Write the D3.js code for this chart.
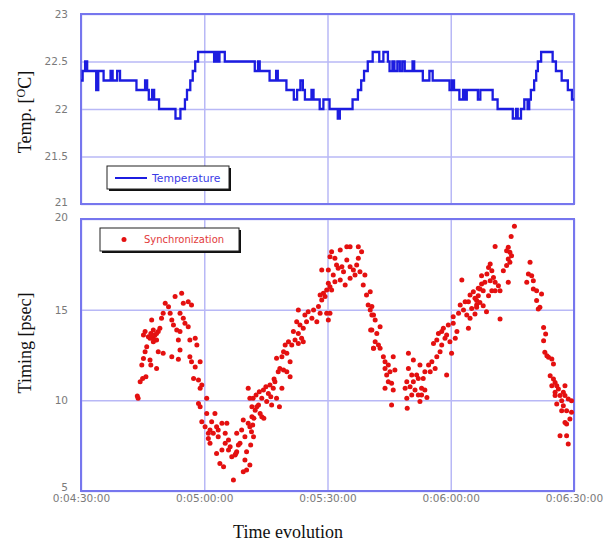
<!DOCTYPE html>
<html>
<head>
<meta charset="utf-8">
<script src="https://cdn.jsdelivr.net/npm/d3@7"></script>
<style>
  body { margin: 0; background: #fff; }
  .tick text { font-family: "DejaVu Sans", sans-serif; font-size: 10.5px; fill: #7a7a7a; }
  .axis-title { font-family: "Liberation Serif", "Times New Roman", serif; font-size: 18px; fill: #111; }
  .legend-text { font-family: "DejaVu Sans", sans-serif; font-size: 10px; }
</style>
</head>
<body>
<div id="chart"></div>
<script>
// seconds after 0:04:30
var timeTicks = [0, 30, 60, 90, 120];
var timeLabels = ["0:04:30:00", "0:05:00:00", "0:05:30:00", "0:06:00:00", "0:06:30:00"];
var tempTicks = [21, 21.5, 22, 22.5, 23];
var timingTicks = [5, 10, 15, 20];

// temperature [s, degC], step changes
var temperature = [
  [0, 22.3], [0.4, 22.4], [1.0, 22.5], [1.5, 22.4], [3.7, 22.2], [4.2, 22.4], [5.5, 22.3],
  [7.2, 22.4], [7.7, 22.3], [8.8, 22.4], [9.5, 22.3], [13.5, 22.2], [15.6, 22.3], [16.1, 22.2],
  [16.5, 22.1], [17.3, 22.2], [17.8, 22.1], [19.0, 22.0], [23.0, 21.9], [24.2, 22.0], [25.3, 22.1],
  [25.8, 22.2], [26.6, 22.3], [27.2, 22.4], [27.8, 22.5], [28.5, 22.6], [32.4, 22.5], [32.8, 22.6],
  [33.3, 22.5], [33.7, 22.6], [35.0, 22.5], [42.3, 22.4], [43.1, 22.5], [43.5, 22.4], [45.9, 22.3],
  [47.5, 22.4], [47.9, 22.3], [50.0, 22.2], [51.8, 22.1], [52.6, 22.2], [53.4, 22.3], [54.0, 22.2],
  [54.5, 22.1], [56.1, 22.2], [56.6, 22.1], [58.1, 22.0], [59.0, 22.1], [59.6, 22.1], [60.5, 22.0],
  [62.5, 21.9], [63.0, 22.0], [66.1, 22.1], [67.4, 22.2], [68.2, 22.3], [68.9, 22.4], [69.8, 22.5],
  [71.0, 22.6], [72.6, 22.5], [73.6, 22.6], [74.7, 22.5], [75.1, 22.4], [75.8, 22.5], [76.3, 22.4],
  [77.0, 22.5], [77.6, 22.4], [78.2, 22.5], [78.8, 22.4], [80.7, 22.5], [81.1, 22.4], [83.2, 22.3],
  [84.8, 22.4], [85.6, 22.3], [89.7, 22.2], [90.3, 22.3], [90.8, 22.2], [92.1, 22.1], [93.0, 22.2],
  [93.5, 22.1], [93.9, 22.2], [96.6, 22.1], [97.2, 22.2], [100.2, 22.1], [101.4, 22.0], [105.1, 21.9],
  [105.9, 22.0], [106.3, 21.9], [107.1, 22.0], [107.9, 22.1], [108.7, 22.0], [109.1, 22.1], [109.5, 22.2],
  [110.3, 22.3], [110.8, 22.4], [111.2, 22.5], [112.0, 22.6], [114.8, 22.5], [115.6, 22.4], [117.0, 22.3],
  [118.5, 22.2], [119.5, 22.1], [120, 22.1]
];

// synchronization timing [s, psec]
var synchronization = [
  [13.7,10.24],[13.9,10.11],[14.4,11.03],[15.0,11.21],[15.8,11.30],[14.8,11.95],[15.2,12.31],[15.6,12.68],
  [16.0,12.96],[16.8,12.22],[17.0,11.95],[18.4,11.76],[15.2,13.60],[15.6,13.79],[16.4,13.51],[17.0,13.69],
  [17.6,13.42],[18.0,13.60],[18.4,13.33],[17.6,13.88],[18.8,13.79],[19.2,13.97],[17.2,14.43],[19.6,14.52],
  [20.0,14.80],[20.5,15.35],[21.3,15.16],[21.7,14.80],[22.1,14.43],[22.5,14.15],[22.9,15.72],[24.5,15.90],
  [24.9,15.35],[26.1,15.44],[26.9,15.26],[24.1,14.80],[24.9,14.52],[23.3,13.88],[24.1,13.79],[25.3,14.25],
  [26.1,14.06],[26.5,13.33],[27.8,13.42],[28.2,13.05],[23.7,13.33],[24.1,12.77],[18.8,12.68],[20.0,12.59],
  [22.1,12.41],[23.7,12.26],[26.5,12.41],[26.9,12.13],[27.8,11.84],[29.0,12.13],[27.4,11.21],[28.6,11.12],
  [29.4,10.84],[29.0,10.66],[30.6,10.11],[28.6,9.83],[29.0,9.65],[29.4,8.82],[30.6,9.28],[30.2,8.55],
  [31.0,8.18],[31.4,7.63],[31.8,8.82],[32.6,9.28],[33.0,8.55],[33.4,7.99],[33.0,7.07],[33.8,6.52],
  [34.7,6.34],[34.3,7.26],[35.1,8.18],[35.5,8.73],[35.9,7.81],[36.3,7.44],[36.7,6.89],[37.5,6.98],
  [37.9,7.17],[37.1,5.60],[38.7,7.63],[39.1,8.36],[39.9,7.99],[40.3,7.17],[39.9,6.71],[40.3,6.16],
  [39.5,6.06],[40.7,10.66],[41.1,10.11],[41.6,9.65],[41.6,9.10],[41.1,8.55],[42.0,7.99],[40.7,8.73],
  [37.9,8.18],[39.5,8.91],[34.3,8.73],[32.2,8.18],[31.0,7.90],[16.8,13.42],[17.2,13.60],[18.0,13.33],
  [18.4,13.69],[17.6,13.23],[35.9,7.26],[38.3,7.53],[37.7,7.07],[35.1,7.63],[33.4,8.36],[31.4,8.36],
  [41.1,6.43],[41.3,7.53],[41.5,8.27],[41.8,8.64],[42.1,9.01],[42.4,9.46],[42.8,9.65],[43.2,9.74],
  [43.6,9.28],[44.0,9.10],[44.5,9.01],[41.9,10.11],[42.6,10.29],[43.4,10.48],[44.4,10.57],[45.0,10.75],
  [45.6,10.38],[46.2,10.20],[46.8,10.66],[47.2,11.03],[47.6,10.11],[48.3,9.65],[48.9,10.66],[44.0,10.11],
  [45.2,9.93],[46.4,9.74],[46.0,10.84],[47.0,11.18],[48.0,11.58],[48.4,11.76],[49.3,11.67],[50.1,11.58],
  [50.9,11.30],[47.6,12.32],[48.9,12.41],[49.3,12.68],[50.1,12.59],[50.9,12.13],[49.7,13.05],[50.5,13.23],
  [51.3,13.05],[52.1,13.33],[52.9,13.14],[53.7,13.42],[54.1,13.23],[51.7,13.79],[52.9,13.69],[53.3,14.15],
  [54.1,13.97],[52.5,14.34],[52.9,14.98],[54.5,14.71],[55.3,14.89],[56.2,14.52],[57.4,14.34],[56.6,14.98],
  [57.8,15.17],[58.2,14.80],[54.9,14.34],[58.6,15.53],[58.2,15.81],[59.0,15.90],[59.8,16.08],[59.4,15.72],
  [60.2,16.45],[60.6,16.27],[61.0,16.08],[59.8,14.80],[60.6,14.80],[60.2,14.43],[58.6,17.19],[60.2,17.19],
  [60.6,17.92],[61.0,18.20],[61.8,17.83],[63.1,18.29],[64.7,18.47],[65.5,18.47],[67.5,18.47],[68.3,18.20],
  [62.2,17.46],[62.6,17.28],[63.5,17.37],[63.9,17.09],[64.7,17.74],[65.5,17.37],[66.3,17.19],[67.1,17.46],
  [67.5,17.83],[65.5,16.73],[66.7,16.91],[67.9,17.09],[69.1,16.91],[68.7,16.36],[69.5,15.81],[69.9,15.26],
  [70.4,14.98],[70.8,14.71],[70.5,13.88],[71.2,12.87],[61.8,16.54],[63.1,16.63],[64.3,16.36],[61.4,16.91],
  [70.4,15.99],[70.8,15.17],[71.2,14.71],[71.6,14.43],[70.8,13.88],[72.0,13.69],[72.8,14.06],[71.6,13.23],
  [72.4,13.05],[71.2,12.87],[72.8,12.87],[73.6,12.41],[74.0,12.13],[74.8,11.95],[76.0,12.41],[74.0,11.76],
  [74.4,11.40],[75.2,11.58],[76.4,11.67],[74.8,11.03],[75.6,10.94],[74.0,10.66],[76.0,10.57],[75.6,9.74],
  [79.7,12.59],[80.9,12.22],[79.7,11.76],[79.3,11.03],[78.9,10.66],[80.1,10.75],[80.9,11.03],[81.7,11.40],
  [81.3,10.57],[82.1,10.29],[79.3,10.11],[80.5,10.29],[82.5,9.93],[84.2,10.15],[79.4,9.56],[82.9,10.66],
  [83.3,11.21],[83.7,11.58],[84.6,11.95],[85.4,12.13],[85.0,11.58],[86.2,11.76],[86.6,12.41],[87.4,12.68],
  [87.8,13.05],[85.8,13.14],[86.6,13.33],[87.0,13.69],[87.8,13.79],[88.6,13.42],[89.0,13.60],[89.8,13.23],
  [90.2,12.59],[89.0,11.40],[88.2,13.97],[89.4,14.15],[90.6,14.25],[91.5,13.79],[91.1,13.42],[90.6,14.61],
  [91.9,14.80],[92.3,15.26],[93.1,14.98],[93.9,14.71],[94.3,13.97],[94.7,14.52],[95.1,15.07],[93.5,15.44],
  [94.3,15.44],[94.7,15.81],[95.9,15.63],[96.3,15.26],[95.5,15.99],[96.7,16.18],[92.7,16.64],[82.5,11.95],
  [82.1,11.21],[80.5,11.40],[82.9,10.29],[83.7,10.57],
  [105.5,19.60],[104.7,19.04],[104.0,18.44],[103.6,18.25],[104.4,18.16],[104.8,17.98],[104.0,17.79],[104.4,17.61],
  [103.6,17.43],[102.8,17.15],[100.8,18.49],[99.6,17.52],[99.2,17.33],[100.0,17.15],[98.8,16.97],[100.4,16.78],
  [99.6,16.60],[100.8,16.51],[101.6,16.32],[98.3,16.51],[97.5,16.41],[97.1,16.14],[97.9,16.05],[99.2,15.77],
  [100.0,16.05],[100.8,16.05],[102.0,16.05],[96.7,15.77],[96.3,15.50],[97.1,15.40],[96.3,15.13],[97.9,15.22],
  [95.9,14.76],[98.7,14.89],[104.0,16.51],[102.0,14.48],[97.5,16.87],[109.3,17.61],[108.9,16.97],[109.7,16.87],
  [108.5,16.51],[110.1,16.14],[110.9,16.05],[112.1,15.86],[110.1,16.60],[110.9,15.50],[111.3,15.04],[111.7,15.13],
  [112.6,14.02],[113.1,13.66],[112.6,13.29],[112.9,12.65],[113.8,12.37],[113.4,12.46],[114.6,12.28],[115.0,12.00],
  [114.2,11.36],[115.0,11.17],[115.4,10.99],[115.8,10.81],[116.2,10.62],[114.6,10.81],[117.8,10.81],[115.4,10.44],
  [116.6,10.26],[117.8,10.26],[118.6,10.07],[119.4,9.98],[117.0,9.98],[115.8,9.80],[117.4,9.70],[118.2,9.43],
  [117.0,9.43],[119.4,9.34],[119.0,8.97],[118.2,8.69],[117.8,8.78],[116.6,8.05],[118.2,8.05],[118.6,7.59],
  [115.4,10.26],[117.4,10.44]
];

var W = 613, H = 543;
var left = 81, right = 574;
var top1 = 14, bot1 = 204;
var top2 = 219, bot2 = 491;
var gridColor = "#b8b8f6", frameColor = "#7676ee";

var svg = d3.select("#chart").append("svg")
    .attr("width", W)
    .attr("height", H);

var x = d3.scaleLinear().domain([0, 120]).range([left, right]);
var yT = d3.scaleLinear().domain([21, 23]).range([bot1, top1]);
var yS = d3.scaleLinear().domain([5, 20]).range([bot2, top2]);

// labels at the panel joins sit a little above their tick
var labelLift = { 21: -2, 20: -2, 5: -4 };

function panel(y, top, bot, yTicks, showX) {
  var g = svg.append("g");
  g.append("g")
      .attr("class", "axis")
      .attr("transform", "translate(" + left + ",0)")
      .call(d3.axisLeft(y).tickValues(yTicks).tickSize(-(right - left)).tickPadding(13).tickFormat(d3.format("")))
      .call(function (a) {
        a.select(".domain").remove();
        a.selectAll(".tick line").attr("stroke", gridColor).attr("stroke-width", 1.5);
        a.selectAll(".tick text").attr("y", function (d) { return labelLift[d] || 0; });
      });
  g.append("g")
      .attr("class", "axis")
      .attr("transform", "translate(0," + bot + ")")
      .call(d3.axisBottom(x).tickValues(timeTicks).tickSize(-(bot - top)).tickPadding(6)
        .tickFormat(function (d, i) { return showX ? timeLabels[i] : ""; }))
      .call(function (a) {
        a.select(".domain").remove();
        a.selectAll(".tick line").attr("stroke", gridColor).attr("stroke-width", 1.5);
        a.selectAll(".tick text").attr("y", 4);
      });
  g.append("rect")
      .attr("x", left).attr("y", top)
      .attr("width", right - left).attr("height", bot - top)
      .attr("fill", "none")
      .attr("stroke", frameColor)
      .attr("stroke-width", 2);
  return g;
}

panel(yT, top1, bot1, tempTicks, false);
panel(yS, top2, bot2, timingTicks, true);

// temperature line
var line = d3.line()
    .x(function (d) { return x(d[0]); })
    .y(function (d) { return yT(d[1]); })
    .curve(d3.curveStepAfter);

svg.append("path")
    .datum(temperature)
    .attr("d", line)
    .attr("fill", "none")
    .attr("stroke", "#1c1ce0")
    .attr("stroke-width", 2.3);

// sync dots
svg.append("g").selectAll("circle")
    .data(synchronization).enter()
    .append("circle")
    .attr("cx", function (d) { return x(d[0]); })
    .attr("cy", function (d) { return yS(d[1]); })
    .attr("r", 2.5)
    .attr("fill", "#e41010");

// legends
function legendBox(bx, by, bw, bh) {
  svg.append("rect")
      .attr("x", bx + 2).attr("y", by + 2)
      .attr("width", bw).attr("height", bh)
      .attr("fill", "#111");
  svg.append("rect")
      .attr("x", bx).attr("y", by)
      .attr("width", bw).attr("height", bh)
      .attr("fill", "#fff")
      .attr("stroke", "#222")
      .attr("stroke-width", 1);
}

legendBox(107, 166, 122, 23);
svg.append("line")
    .attr("x1", 115).attr("x2", 147)
    .attr("y1", 178).attr("y2", 178)
    .attr("stroke", "#1c1ce0").attr("stroke-width", 2);
svg.append("text")
    .attr("class", "legend-text")
    .attr("x", 152).attr("y", 182)
    .attr("fill", "#3a3ae6")
    .style("font-size", "10.8px")
    .text("Temperature");

legendBox(100, 228, 139, 23);
svg.append("circle")
    .attr("cx", 124).attr("cy", 239.5).attr("r", 2.5)
    .attr("fill", "#e41010");
svg.append("text")
    .attr("class", "legend-text")
    .attr("x", 144).attr("y", 243)
    .attr("fill", "#e23a3a")
    .text("Synchronization");

// axis titles
var tt = svg.append("text")
    .attr("class", "axis-title")
    .attr("transform", "translate(31,112) rotate(-90)")
    .attr("text-anchor", "middle");
tt.append("tspan").text("Temp. [");
tt.append("tspan").attr("font-size", "12px").attr("dy", -6).text("O");
tt.append("tspan").attr("dy", 6).text("C]");

svg.append("text")
    .attr("class", "axis-title")
    .attr("transform", "translate(31,343) rotate(-90)")
    .attr("text-anchor", "middle")
    .text("Timing [psec]");

svg.append("text")
    .attr("class", "axis-title")
    .attr("x", 288).attr("y", 538)
    .attr("text-anchor", "middle")
    .text("Time evolution");
</script>
</body>
</html>
